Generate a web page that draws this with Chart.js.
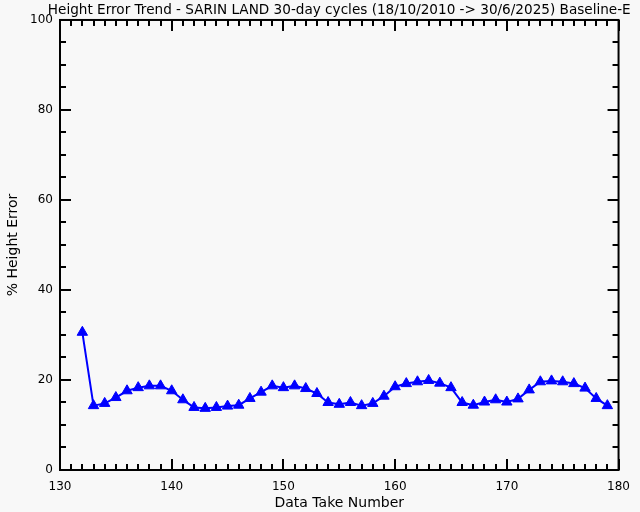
<!DOCTYPE html>
<html>
<head>
<meta charset="utf-8">
<script src="https://cdn.jsdelivr.net/npm/chart.js@4"></script>
<style>
  html, body { margin: 0; padding: 0; background: #f8f8f8; }
  #wrap { width: 640px; height: 512px; }
</style>
</head>
<body>
<div id="wrap"><canvas id="c" width="640" height="512"></canvas></div>
<script>
const chartTitle = "Height Error Trend - SARIN LAND 30-day cycles (18/10/2010 -> 30/6/2025) Baseline-E";
const xTitle = "Data Take Number";
const yTitle = "% Height Error";
const dataTakes = [132,133,134,135,136,137,138,139,140,141,142,143,144,145,146,147,148,149,150,151,152,153,154,155,156,157,158,159,160,161,162,163,164,165,166,167,168,169,170,171,172,173,174,175,176,177,178,179];
const heightError = [30.6,14.3,14.8,16.1,17.6,18.3,18.7,18.7,17.6,15.6,13.9,13.7,13.9,14.2,14.4,15.9,17.3,18.7,18.3,18.7,18.1,17.0,15.0,14.6,15.0,14.3,14.8,16.4,18.5,19.2,19.6,19.9,19.3,18.3,15.0,14.4,15.1,15.6,15.1,15.8,17.8,19.6,19.8,19.6,19.2,18.2,15.9,14.3];
const xRange = [130, 180];
const yRange = [0, 100];
const xMajorStep = 10, xMinorStep = 1;
const yMajorStep = 20, yMinorStep = 5;

const FONT = "'DejaVu Sans', sans-serif";

const bgPlugin = {
  id: 'bg',
  beforeDraw(chart) {
    const ctx = chart.ctx;
    ctx.save();
    ctx.fillStyle = '#f8f8f8';
    ctx.fillRect(0, 0, chart.width, chart.height);
    ctx.restore();
  }
};

// centre the (wide) title over the plot area without squeezing it
const titleCenterPlugin = {
  id: 'titleCenter',
  afterLayout(chart) {
    const t = chart.titleBlock;
    const a = chart.chartArea;
    if (!t) return;
    const cx = (a.left + a.right) / 2;
    const half = Math.min(cx, chart.width - cx) + 20;
    t.left = cx - half;
    t.right = cx + half;
    t.width = t.right - t.left;
  }
};

const framePlugin = {
  id: 'frame',
  afterDraw(chart) {
    const ctx = chart.ctx;
    const a = chart.chartArea;
    const xs = chart.scales.x, ys = chart.scales.y;
    ctx.save();
    ctx.strokeStyle = '#000';
    ctx.fillStyle = '#000';
    ctx.lineWidth = 2;
    ctx.strokeRect(a.left, a.top, a.right - a.left, a.bottom - a.top);
    const nx = Math.round((xRange[1] - xRange[0]) / xMinorStep);
    for (let i = 0; i <= nx; i++) {
      const v = xRange[0] + i * xMinorStep;
      const px = Math.round(xs.getPixelForValue(v));
      const major = (i % Math.round(xMajorStep / xMinorStep)) === 0;
      const len = major ? 11 : 6;
      ctx.fillRect(px - 1, a.bottom - len, 2, len);
      ctx.fillRect(px - 1, a.top, 2, len);
    }
    const ny = Math.round((yRange[1] - yRange[0]) / yMinorStep);
    for (let i = 0; i <= ny; i++) {
      const v = yRange[0] + i * yMinorStep;
      const py = Math.round(ys.getPixelForValue(v));
      const major = (i % Math.round(yMajorStep / yMinorStep)) === 0;
      const len = major ? 11 : 6;
      ctx.fillRect(a.left, py - 1, len, 2);
      ctx.fillRect(a.right - len, py - 1, len, 2);
    }
    ctx.restore();
  }
};

new Chart(document.getElementById('c'), {
  type: 'line',
  data: {
    datasets: [{
      data: dataTakes.map((x, i) => ({ x: x, y: heightError[i] })),
      borderColor: '#0000ff',
      backgroundColor: '#0000ff',
      borderWidth: 2,
      pointStyle: 'triangle',
      pointRadius: 6,
      pointBorderWidth: 1,
      tension: 0,
      fill: false
    }]
  },
  options: {
    responsive: false,
    animation: false,
    layout: { padding: { left: 0, right: 18, top: 0, bottom: 0 } },
    plugins: {
      legend: { display: false },
      tooltip: { enabled: false },
      title: {
        display: true,
        text: chartTitle,
        fullSize: false,
        color: '#000',
        font: { family: FONT, size: 13.6, weight: 'normal', lineHeight: 1.13 },
        padding: { top: 2.5, bottom: 2.1 }
      }
    },
    scales: {
      x: {
        type: 'linear',
        min: xRange[0], max: xRange[1],
        afterFit(s) { s.height = 42; },
        grid: { display: false, drawTicks: false },
        border: { display: false },
        ticks: { stepSize: xMajorStep, color: '#000', padding: 10, font: { family: FONT, size: 12 } },
        title: { display: true, text: xTitle, color: '#000', padding: { top: 0, bottom: 0 }, font: { family: FONT, size: 14 } }
      },
      y: {
        min: yRange[0], max: yRange[1],
        afterFit(s) { s.width = 60; },
        grid: { display: false, drawTicks: false },
        border: { display: false },
        ticks: { stepSize: yMajorStep, color: '#000', padding: 7, font: { family: FONT, size: 12 } },
        title: { display: true, text: yTitle, color: '#000', padding: { top: 5, bottom: 0 }, font: { family: FONT, size: 14 } }
      }
    }
  },
  plugins: [bgPlugin, titleCenterPlugin, framePlugin]
});
</script>
</body>
</html>
